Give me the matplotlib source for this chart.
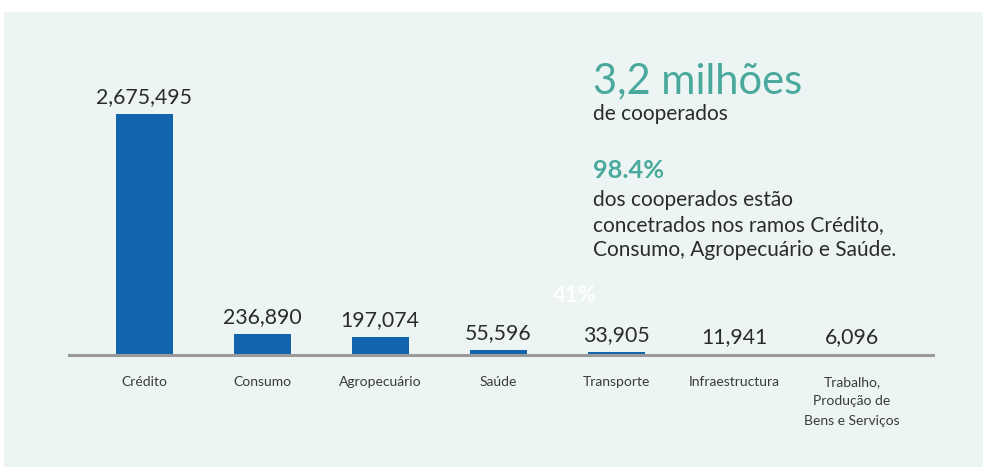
import matplotlib.pyplot as plt
from matplotlib.patches import Rectangle

plt.rcParams['font.family'] = ['Lato', 'DejaVu Sans']

ramos = ['Crédito', 'Consumo', 'Agropecuário', 'Saúde', 'Transporte',
         'Infraestructura', 'Trabalho,\nProdução de\nBens e Serviços']
cooperados = [2675495, 236890, 197074, 55596, 33905, 11941, 6096]

total_txt = '3,2 milhões'
share_txt = '98.4%'

BLUE = '#1265ad'
TEAL = '#4aa99c'
DARK = '#2b2b2b'
PANEL = '#ecf5f4'

fig = plt.figure(figsize=(9.83, 4.67), dpi=100, facecolor='white')

# light panel behind everything
fig.patches.append(Rectangle((4 / 983, 0), 1 - 4 / 983, 1 - 12 / 467,
                             transform=fig.transFigure, facecolor=PANEL,
                             edgecolor='none', zorder=-10))

ax = fig.add_axes([69 / 983, 112 / 467, 864 / 983, 295 / 467])
ax.set_facecolor('none')
ax.set_zorder(1)

x = range(len(ramos))
bars = ax.bar(x, cooperados, width=0.483, color=BLUE, zorder=2)
ax.bar_label(bars, labels=[f'{v:,}' for v in cooperados], padding=5,
             fontsize=15.3, color=DARK)

ax.set_xlim(-0.636, 6.686)
ax.set_ylim(0, 2675495 * 295 / 241)
ax.set_xticks(list(x))
ax.set_xticklabels(ramos, fontsize=10, color='#3a3a3a', linespacing=1.75, va='top')
ax.tick_params(axis='x', length=0, pad=15)
ax.set_yticks([])
for s in ['top', 'right', 'left']:
    ax.spines[s].set_visible(False)
ax.spines['bottom'].set_color('#9a9a9a')
ax.spines['bottom'].set_linewidth(2.2)
ax.spines['bottom'].set_zorder(3)

# summary text on the right
fig.text(593 / 983, 1 - 81 / 467, total_txt, fontsize=30, color=TEAL,
         va='center', ha='left')
fig.text(593 / 983, 1 - 114 / 467, 'de cooperados', fontsize=15, color=DARK,
         va='center', ha='left')
fig.text(593 / 983, 1 - 170 / 467, share_txt, fontsize=18.3, color=TEAL,
         fontweight='bold', va='center', ha='left')
fig.text(593 / 983, 1 - 225 / 467,
         'dos cooperados estão\nconcetrados nos ramos Crédito,\nConsumo, Agropecuário e Saúde.',
         fontsize=15, color=DARK, va='center', ha='left', linespacing=1.3)
fig.text(575 / 983, 1 - 295 / 467, '41%', fontsize=16, color='white',
         fontweight='bold', va='center', ha='center')

fig.savefig('out.png', dpi=100, facecolor='white')
